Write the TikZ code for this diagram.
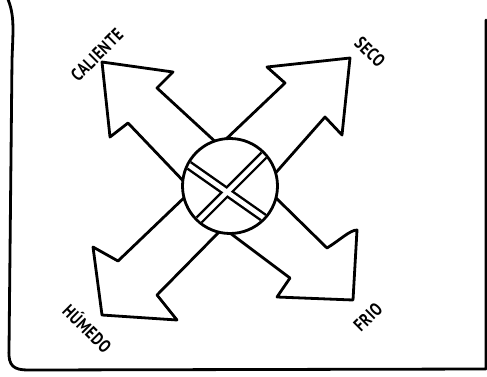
\documentclass[tikz,border=0pt]{standalone}
\usepackage{fontspec}
\newfontfamily\handfont[LetterSpace=4,FakeStretch=0.8]{PT Sans}
\begin{document}
\begin{tikzpicture}[x=1pt,y=-1pt,
  ink/.style={line width=2.8pt, line join=round, line cap=round, draw=black},
  lbl/.style={font=\handfont\bfseries\fontsize{18}{18}\selectfont, inner sep=0pt}]
\useasboundingbox (0,0) rectangle (487,376);
\fill[white] (0,0) rectangle (487,376);
% frame
\draw[ink] (7,-3) .. controls (15,15) and (13,30) .. (12,60) -- (9,350)
  .. controls (8,366) and (14,370) .. (28,370) -- (486,369) -- (486,20);
% arrows
\draw[ink] (220,146) -- (157,88) -- (173,72) -- (102,62) -- (110,137) -- (128,123) -- (190,188);
\draw[ink] (224,141) -- (285,83) -- (267,67) -- (350,58) -- (342,135) -- (325,117) -- (272,177);
\draw[ink] (272,194) -- (327,248) .. controls (340,240) and (350,230) .. (357,230) -- (353,300) -- (277,297) -- (290,278) -- (226,230);
\draw[ink] (188,194) -- (118,261) -- (93,247) -- (102,315) -- (177,320) -- (157,295) -- (222,229);
% hub
\node[circle, draw, line width=2.8pt, fill=white, minimum size=95pt, inner sep=0pt] (hub) at (230,186) {};
\begin{scope}
  \clip (230,186) circle[radius=46];
  \draw[line width=9.5pt] (178,157.6) -- (276,226.4);
  \draw[line width=9.5pt] (269.4,149.6) -- (184.6,234.4);
  \draw[line width=4.6pt, white] (170,152) -- (284,232);
  \draw[line width=4.6pt, white] (277,142) -- (177,242);
\end{scope}
% labels
\node[lbl, rotate=45] (cal) at (97,55) {CALIENTE};
\node[lbl, rotate=-45] (seco) at (370,52) {SECO};
\node[lbl, rotate=-45] (hum) at (88,328) {HÚMEDO};
\node[lbl, rotate=45] (frio) at (368,317) {FRIO};
\end{tikzpicture}
\end{document}
